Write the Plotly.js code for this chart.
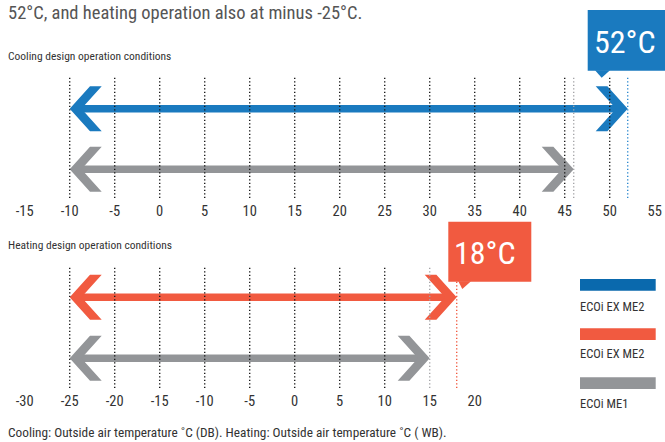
<!DOCTYPE html>
<html><head><meta charset="utf-8">
<script src="https://cdn.plot.ly/plotly-3.0.1.min.js"></script>
<style>html,body{margin:0;padding:0;background:#fff;overflow:hidden}#chart{width:665px;height:442px}</style>
</head><body><div id="chart"></div>
<script>
// ---- data ----
const coolSeries = ['ECOi EX ME2', 'ECOi ME1'];
const coolMin = [-10, -10];
const coolMax = [52, 46];
const heatSeries = ['ECOi EX ME2', 'ECOi ME1'];
const heatMin = [-25, -25];
const heatMax = [18, 15];
const coolTicks = [-15, -10, -5, 0, 5, 10, 15, 20, 25, 30, 35, 40, 45, 50, 55];
const heatTicks = [-30, -25, -20, -15, -10, -5, 0, 5, 10, 15, 20];
const coolGrid = [-10, -5, 0, 5, 10, 15, 20, 25, 30, 35, 40, 45, 50];
const heatGrid = [-25, -20, -15, -10, -5, 0, 5, 10];
const legendNames = ['ECOi EX ME2', 'ECOi EX ME2', 'ECOi ME1'];
const coolPeakLabel = '52°C';
const heatPeakLabel = '18°C';

// ---- style ----
const W = 665, H = 442, PX = 9;
const FONT = '"Noto Sans ExtraCondensed", "Noto Sans Condensed", "Roboto Condensed", "Liberation Sans Narrow", "DejaVu Sans Condensed", sans-serif';
const BLUE = '#1a7abf', RED = '#f15a40', GREY = '#939598', LEG_BLUE = '#0a69ad';
const coolColors = [BLUE, GREY], heatColors = [RED, GREY];
const coolEndColors = ['#2f8ad0', '#a5a5a8'], heatEndColors = ['#f15a40', '#a5a5a8'];
const coolRowY = [108.8, 169.3], heatRowY = [297.3, 358.3];
const px = x => x / W, py = y => 1 - y / H;

function arrow(lo, hi, yc, color, xa, ya) {
  const a = 20.3 / PX, b = 32 / PX, c = 11.7 / PX, h = 22.5;
  const base = {type: 'scatter', xaxis: xa, yaxis: ya, hoverinfo: 'skip', showlegend: false, cliponaxis: false};
  return [
    Object.assign({}, base, {mode: 'lines', x: [lo + 0.6, hi - 0.6], y: [yc, yc], line: {color: color, width: 7.4}}),
    Object.assign({}, base, {mode: 'lines', fill: 'toself', fillcolor: color, line: {width: 0, color: color},
      x: [lo, lo + a, lo + b, lo + c, lo + b, lo + a, lo], y: [yc, yc - h, yc - h, yc, yc + h, yc + h, yc]}),
    Object.assign({}, base, {mode: 'lines', fill: 'toself', fillcolor: color, line: {width: 0, color: color},
      x: [hi, hi - a, hi - b, hi - c, hi - b, hi - a, hi], y: [yc, yc - h, yc - h, yc, yc + h, yc + h, yc]})
  ];
}

let traces = [];
coolSeries.forEach((s, i) => { traces = traces.concat(arrow(coolMin[i], coolMax[i], coolRowY[i], coolColors[i], 'x', 'y')); });
heatSeries.forEach((s, i) => { traces = traces.concat(arrow(heatMin[i], heatMax[i], heatRowY[i], heatColors[i], 'x2', 'y2')); });

const DOT = '1.3px,2.2px';
const shapes = [];
coolGrid.forEach(g => shapes.push({type: 'line', xref: 'x', yref: 'y domain', x0: g, x1: g, y0: 0, y1: 1, line: {color: '#1a1a1a', width: 1.4, dash: DOT}}));
heatGrid.forEach(g => shapes.push({type: 'line', xref: 'x2', yref: 'y2 domain', x0: g, x1: g, y0: 0, y1: 1, line: {color: '#1a1a1a', width: 1.4, dash: DOT}}));
coolMax.forEach((m, i) => shapes.push({type: 'line', xref: 'x', yref: 'y domain', x0: m, x1: m, y0: 0, y1: 1, line: {color: coolEndColors[i], width: 1.4, dash: DOT}}));
heatMax.forEach((m, i) => shapes.push({type: 'line', xref: 'x2', yref: 'y2 domain', x0: m, x1: m, y0: 0, y1: 1, line: {color: heatEndColors[i], width: 1.4, dash: DOT}}));

function callout(x0, x1, y0, y1, p0, p1, tipX, tipY, color) {
  shapes.push({type: 'rect', xref: 'paper', yref: 'paper', x0: px(x0), x1: px(x1), y0: py(y0), y1: py(y1), fillcolor: color, line: {width: 0}, layer: 'above'});
  shapes.push({type: 'path', xref: 'paper', yref: 'paper', fillcolor: color, line: {width: 0}, layer: 'above',
    path: `M${px(p0)},${py(y1 - 0.5)} L${px(p1)},${py(y1 - 0.5)} L${px(tipX)},${py(tipY)} Z`});
}
callout(587.7, 670, 10, 70.7, 595, 610, 601.7, 77.7, BLUE);
callout(448.3, 531.3, 221.7, 281.7, 458.3, 471, 462.3, 289, RED);

const legColors = [LEG_BLUE, RED, GREY];
const legBarY = [279, 328.3, 377.3];
const legTextY = [306, 353.5, 403.3];
legendNames.forEach((n, i) => shapes.push({type: 'rect', xref: 'paper', yref: 'paper', x0: px(580), x1: px(655.7), y0: py(legBarY[i]), y1: py(legBarY[i] + 11.7), fillcolor: legColors[i], line: {width: 0}}));

const ann = (text, x, y, size, color, anchor) => ({text: text, x: px(x), y: py(y), xref: 'paper', yref: 'paper', showarrow: false,
  xanchor: anchor || 'left', yanchor: 'middle', font: {family: FONT, size: size, color: color}});
const annotations = [
  ann('52°C, and heating operation also at minus -25°C.', 6, 12.5, 18.5, '#555'),
  ann('Cooling design operation conditions', 6, 56, 11.5, '#333'),
  ann('Heating design operation conditions', 6, 245, 11.5, '#333'),
  ann('Cooling: Outside air temperature ˚C (DB). Heating: Outside air temperature ˚C ( WB).', 6, 432, 13.3, '#333'),
  ann(coolPeakLabel, 624.5, 42.5, 32, '#fff', 'center'),
  ann(heatPeakLabel, 484.5, 253, 32, '#fff', 'center')
];
legendNames.forEach((n, i) => annotations.push(ann(n, 578, legTextY[i], 12.5, '#333')));

const tickFont = {family: FONT, size: 14.5, color: '#333'};
const xBase = {showgrid: false, zeroline: false, showline: false, ticks: '', tickmode: 'array', tickfont: tickFont, fixedrange: true, ticklabelstandoff: 2};
const layout = {
  width: W, height: H, margin: {l: 0, r: 0, t: 0, b: 0}, paper_bgcolor: '#fff', plot_bgcolor: 'rgba(0,0,0,0)',
  showlegend: false,
  xaxis: Object.assign({}, xBase, {domain: [0, 1], anchor: 'y', range: [-159.7 / PX, (W - 159.7) / PX], tickvals: coolTicks, ticktext: coolTicks.map(String)}),
  yaxis: {domain: [py(198), py(77)], range: [198, 77], visible: false, fixedrange: true},
  xaxis2: Object.assign({}, xBase, {domain: [0, 1], anchor: 'y2', range: [-294.7 / PX, (W - 294.7) / PX], tickvals: heatTicks, ticktext: heatTicks.map(String)}),
  yaxis2: {domain: [py(388), py(266.7)], range: [388, 266.7], visible: false, fixedrange: true},
  shapes: shapes, annotations: annotations
};
Plotly.newPlot('chart', traces, layout, {displayModeBar: false, staticPlot: true});
</script></body></html>
